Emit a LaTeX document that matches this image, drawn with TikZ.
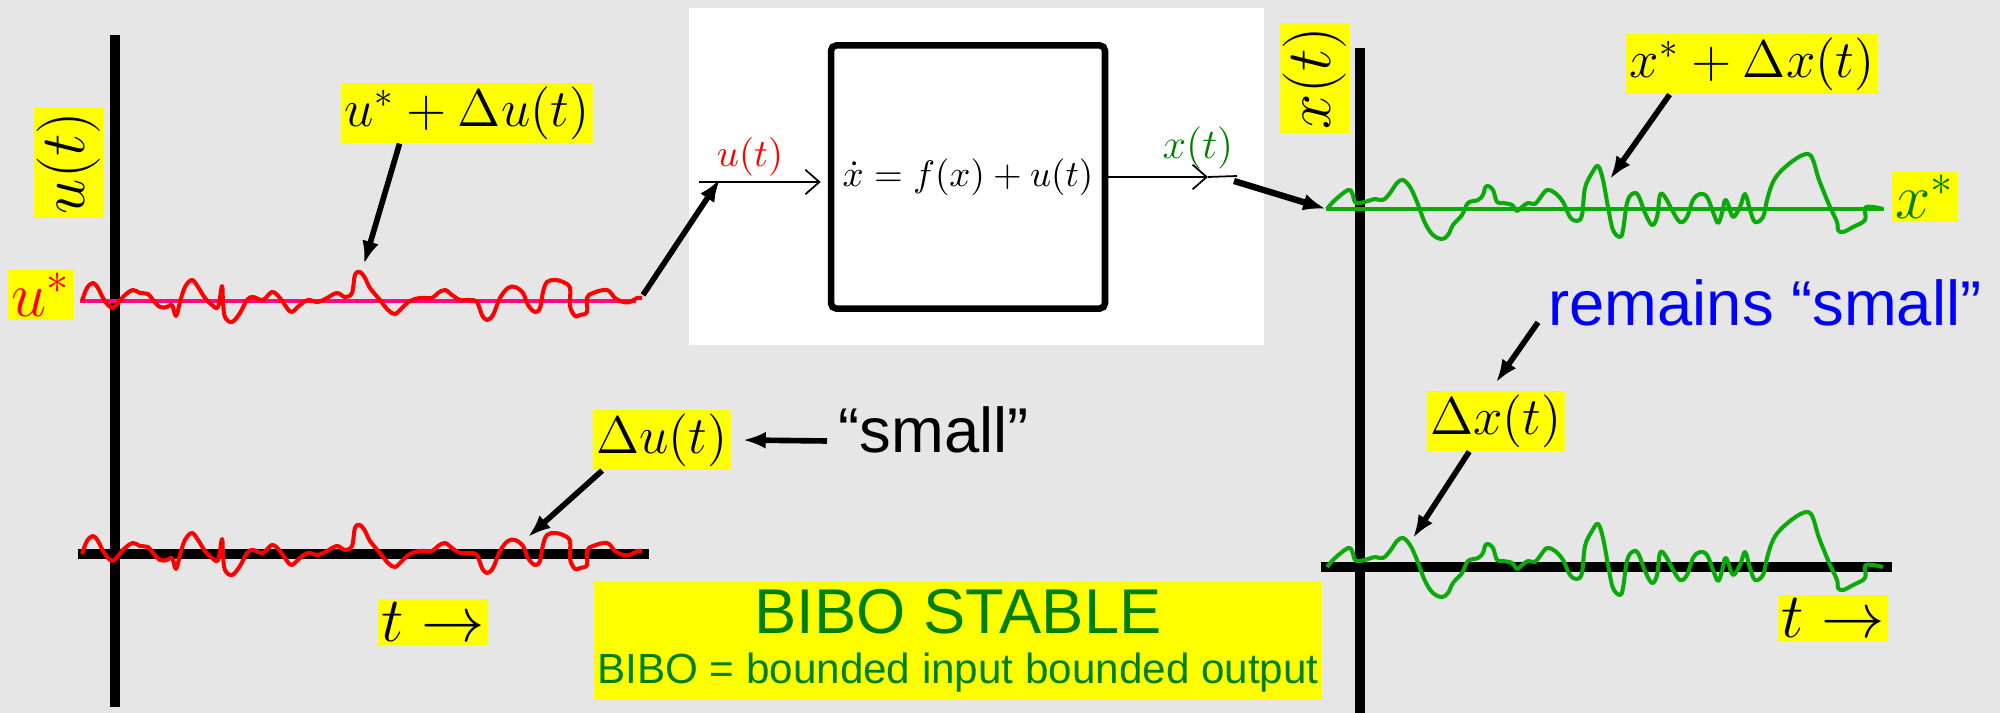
\documentclass[tikz,border=0pt]{standalone}
\usepackage{fix-cm}
\usepackage{amsmath,amssymb}
\usepackage{fontspec}
\usepackage{tikz}
\usetikzlibrary{arrows.meta}
\definecolor{bgray}{HTML}{E6E6E6}
\definecolor{sigred}{HTML}{FF0000}
\definecolor{eqpink}{HTML}{FF0A80}
\definecolor{siggreen}{HTML}{0AAA0A}
\definecolor{txtgreen}{HTML}{008000}
\definecolor{hiyellow}{HTML}{FFFF00}
\definecolor{remblue}{HTML}{0000FF}
\newfontfamily\arialfont{Liberation Sans}
\newcommand{\lblbig}{\fontsize{18}{20}\selectfont}
\newcommand{\lblmid}{\fontsize{15}{17}\selectfont}
\newcommand{\bigsans}{\arialfont\fontsize{18}{21}\selectfont}
\tikzset{
  ylab/.style={fill=hiyellow,inner sep=1pt},
  bigarr/.style={line width=1.6pt,-{Latex[length=6.5pt,width=4.8pt]}},
  handarr/.style={line width=0.5pt,-{Straight Barb[length=4pt,width=7pt]}},
  axisline/.style={line width=3.1pt},
  redsig/.style={draw=sigred,line width=1.15pt,line join=round},
  grnsig/.style={draw=siggreen,line width=1.15pt,line join=round},
}
\newcommand{\redwave}[1]{%
  \draw[redsig,shift={(0,#1)}] plot[smooth,tension=0.6] coordinates {(82,0) (87,-13) (93,-18) (98,-13) (103,-3) (108,4) (113,7) (118,2) (125,-6) (133,-11) (140,-8) (148,-7) (153,-1) (160,6) (167,6) (172,4) (176,15) (180,1) (185,-14) (192,-21) (198,-14) (205,-3) (212,4) (218,6) (222,-15) (223,1) (225,16) (232,21) (240,12) (247,-1) (253,-4) (263,-1) (272,-9) (280,-3) (287,7) (292,11) (300,4) (308,-1) (318,1) (327,-3) (337,-8) (345,-4) (352,-8) (355,-26) (360,-29) (365,-23) (370,-13) (380,-1) (388,9) (395,13) (402,7) (410,0) (420,-3) (432,-3) (438,-8) (445,-11) (452,-6) (460,-1) (470,-1) (477,1) (482,14) (487,19) (493,14) (500,-3) (508,-13) (515,-14) (523,-8) (528,4) (535,11) (540,7) (543,-9) (547,-19) (555,-21) (563,-19) (570,-13) (570,5) (575,15) (580,14) (587,11) (587,-3) (593,-8) (607,-11) (615,-3) (623,1) (630,1) (637,-3) (642,-3)};
}
\newcommand{\greenwave}[1]{%
  \draw[grnsig,shift={(0,#1)}] plot[smooth,tension=0.6] coordinates {(1327,0) (1335,-9) (1348,-19) (1352,-16) (1355,-7) (1360,-6) (1368,-8) (1375,-10) (1383,-9) (1390,-16) (1397,-26) (1403,-29) (1410,-22) (1417,-7) (1425,14) (1433,26) (1442,30) (1448,26) (1453,16) (1462,6) (1468,-6) (1478,-9) (1483,-14) (1485,-21) (1488,-23) (1493,-19) (1497,-7) (1503,-6) (1512,-4) (1517,2) (1522,-2) (1528,-6) (1535,-5) (1540,-11) (1547,-19) (1555,-16) (1563,-7) (1570,8) (1577,12) (1582,6) (1585,-21) (1592,-36) (1598,-43) (1603,-29) (1608,-2) (1613,21) (1620,28) (1623,21) (1627,-6) (1632,-15) (1638,-14) (1645,4) (1652,16) (1657,8) (1660,-14) (1665,-12) (1672,1) (1680,13) (1687,8) (1693,-9) (1700,-15) (1707,-12) (1713,3) (1718,14) (1722,4) (1725,-9) (1728,-5) (1733,8) (1740,-2) (1745,-15) (1750,1) (1755,13) (1763,8) (1767,-9) (1773,-27) (1782,-39) (1797,-51) (1808,-55) (1813,-49) (1818,-32) (1823,-19) (1830,-2) (1837,13) (1838,21) (1843,23) (1853,18) (1865,11) (1865,-1) (1873,-2) (1883,0)};
}

\begin{document}
\begin{tikzpicture}[x=0.01cm,y=-0.01cm]
  \useasboundingbox (0,0) rectangle (2000,713);
  \fill[bgray] (0,0) rectangle (2000,713);
  \fill[white] (689,8) rectangle (1264,345);
  % axes
  \draw[axisline] (115,35) -- (115,707);
  \draw[axisline] (78,554) -- (649,554);
  \draw[axisline] (1360,48) -- (1360,713);
  \draw[axisline] (1321,567) -- (1892,567);
  % operating points and signals
  \coordinate (ustar0) at (80,301);
  \coordinate (ustarE) at (636,301);
  \coordinate (xstar0) at (1326,209);
  \coordinate (xstarE) at (1884,209);
  \draw[eqpink,line width=1.1pt] (ustar0) -- (ustarE);
  \draw[siggreen,line width=1.1pt] (xstar0) -- (xstarE);
  \redwave{301}
  \redwave{554}
  \greenwave{209}
  \greenwave{567}
  % system block
  \node[draw,line width=1.85pt,rounded corners=1.5pt,minimum width=2.7cm,minimum height=2.63cm,
        font=\fontsize{10.5}{12}\selectfont] (plant) at (968,177) {$\dot{x}=f(x)+u(t)$};
  \coordinate (inlft) at (699,182);
  \coordinate (xmid) at (1208,177);
  \coordinate (xout) at (1237,176);
  \draw[handarr,shorten >=2pt] (inlft) -- (plant.west |- inlft);
  \draw[handarr] (plant.east) -- (xmid);
  \draw[line width=0.5pt] (xmid) -- (xout);
  \node[text=sigred,font=\fontsize{11}{12}\selectfont] (uinlbl) at (750,157) {$u(t)$};
  \node[text=txtgreen,font=\fontsize{12}{13}\selectfont] (xoutlbl) at (1198,148) {$x(t)$};
  % left plot labels
  \node[ylab,rotate=90,font=\lblbig] (uaxlbl) at (69,163) {$u(t)$};
  \node[ylab,text=sigred,font=\lblbig] (ustarlbl) at (41,295) {$u^*$};
  \node[ylab,font=\lblmid] (uDulbl) at (467,113) {$u^*+\Delta u(t)$};
  \node[ylab,font=\lblmid] (dulbl) at (662,440) {$\Delta u(t)$};
  \node[anchor=base west,inner sep=0pt,font=\bigsans] (smalltxt) at (838,453) {“small”};
  \node[ylab,font=\lblbig] (tlblL) at (433,622) {$t\rightarrow$};
  % right plot labels
  \node[ylab,rotate=90,font=\lblbig] (xaxlbl) at (1315,78) {$x(t)$};
  \node[ylab,text=txtgreen,font=\lblbig] (xstarlbl) at (1925,197) {$x^*$};
  \node[ylab,font=\lblmid] (xDxlbl) at (1752,64) {$x^*+\Delta x(t)$};
  \node[anchor=base west,inner sep=0pt,text=remblue,font=\bigsans] (remtxt) at (1548,326) {remains “small”};
  \node[ylab,font=\lblmid] (dxlbl) at (1496,421) {$\Delta x(t)$};
  \node[ylab,font=\lblbig] (tlblR) at (1833,618) {$t\rightarrow$};
  % BIBO note
  \node[fill=hiyellow,text=txtgreen,align=center,minimum width=7.28cm,minimum height=1.17cm,inner sep=1pt,
        font=\arialfont\fontsize{12}{14.2}\selectfont] (bibo) at (958,641)
        {{\fontsize{18}{20}\selectfont BIBO STABLE}\\BIBO = bounded input bounded output};
  % pointers
  \coordinate (upeak) at (364,264);
  \coordinate (dupk) at (528,537);
  \coordinate (smtail) at (827,441);
  \coordinate (uend) at (643,295);
  \coordinate (uhit) at (720,179);
  \coordinate (xtail) at (1234,181);
  \coordinate (xpeak) at (1610,179);
  \coordinate (dxpk) at (1413,538);
  \draw[bigarr] ([xshift=0.59cm]uDulbl.south west) -- (upeak);
  \draw[bigarr] ([xshift=0.1cm]dulbl.south west) -- (dupk);
  \draw[bigarr] (smtail) -- ([xshift=0.11cm]dulbl.east);
  \draw[bigarr] (uend) -- (uhit);
  \draw[bigarr,line width=1.8pt] (xtail) -- (xstar0);
  \draw[bigarr] ([xshift=0.44cm]xDxlbl.south west) -- (xpeak);
  \draw[bigarr] ([xshift=-0.1cm,yshift=0.05cm]remtxt.south west) -- ([yshift=0.08cm]dxlbl.north);
  \draw[bigarr] ([xshift=0.43cm]dxlbl.south west) -- (dxpk);
\end{tikzpicture}
\end{document}
